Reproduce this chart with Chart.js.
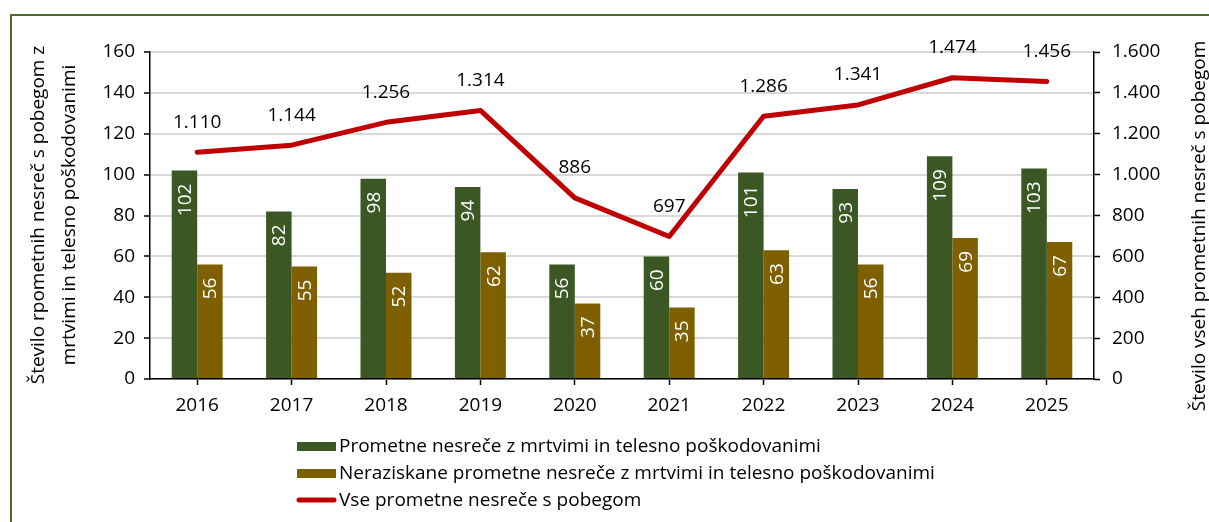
<!DOCTYPE html>
<html>
<head>
<meta charset="utf-8">
<script src="https://cdn.jsdelivr.net/npm/chart.js@4/dist/chart.umd.min.js"></script>
<style>
html,body{margin:0;padding:0;background:#fff;}
#wrap{width:1209px;height:522px;position:relative;}
</style>
</head>
<body>
<div id="wrap"><canvas id="c" width="1209" height="522"></canvas></div>
<script>
const years = ['2016','2017','2018','2019','2020','2021','2022','2023','2024','2025'];
const killedInjured = [102, 82, 98, 94, 56, 60, 101, 93, 109, 103];
const unresolved = [56, 55, 52, 62, 37, 35, 63, 56, 69, 67];
const allHitRun = [1110, 1144, 1256, 1314, 886, 697, 1286, 1341, 1474, 1456];
const seriesNames = [
  'Prometne nesreče z mrtvimi in telesno poškodovanimi',
  'Neraziskane prometne nesreče z mrtvimi in telesno poškodovanimi',
  'Vse prometne nesreče s pobegom'
];
const leftTitle = ['Število rpometnih nesreč s pobegom z', 'mrtvimi in telesno poškodovanimi'];
const rightTitle = 'Število vseh prometnih nesreč s pobegom';

const FONT = '"Open Sans", "Noto Sans", sans-serif';
const FS = 19;
const GREEN = '#3a5724', GOLD = '#7f6000', RED = '#c00000';
const fmt = v => String(v).replace(/\B(?=(\d{3})+(?!\d))/g, '.');

const extras = {
  id: 'extras',
  beforeDraw(chart) {
    const ctx = chart.ctx;
    ctx.save();
    ctx.fillStyle = '#fff';
    ctx.fillRect(0, 0, chart.width, chart.height);
    ctx.strokeStyle = '#4e6b2c';
    ctx.lineWidth = 2;
    ctx.strokeRect(11, 15, 1400, 700);
    ctx.restore();
  },
  afterDatasetsDraw(chart) {
    const ctx = chart.ctx;
    ctx.save();
    ctx.font = FS + 'px ' + FONT;
    ctx.fillStyle = '#fff';
    [0, 1].forEach(di => {
      const meta = chart.getDatasetMeta(di);
      const data = chart.data.datasets[di].data;
      meta.data.forEach((el, i) => {
        ctx.save();
        ctx.translate(el.x, el.y + 13);
        ctx.rotate(-Math.PI / 2);
        ctx.textAlign = 'right';
        ctx.textBaseline = 'middle';
        ctx.fillText(String(data[i]), 0, 1);
        ctx.restore();
      });
    });
    ctx.fillStyle = '#000';
    ctx.textAlign = 'center';
    ctx.textBaseline = 'middle';
    const lm = chart.getDatasetMeta(2);
    lm.data.forEach((el, i) => {
      ctx.fillText(fmt(allHitRun[i]), el.x, el.y - 30);
    });
    ctx.restore();
  },
  afterDraw(chart) {
    const ctx = chart.ctx;
    ctx.save();
    ctx.font = FS + 'px ' + FONT;
    ctx.fillStyle = '#000';
    ctx.textBaseline = 'middle';
    ctx.save();
    ctx.translate(39, 215);
    ctx.rotate(-Math.PI / 2);
    ctx.textAlign = 'center';
    ctx.fillText(leftTitle[0], 0, 0);
    ctx.fillText(leftTitle[1], 0, 31);
    ctx.restore();
    ctx.save();
    ctx.translate(1200, 226);
    ctx.rotate(-Math.PI / 2);
    ctx.textAlign = 'center';
    ctx.fillText(rightTitle, 0, 0);
    ctx.restore();
    const lx = 297, rows = [446, 473, 500];
    ctx.fillStyle = GREEN;
    ctx.fillRect(lx, rows[0] - 4, 39, 9);
    ctx.fillStyle = GOLD;
    ctx.fillRect(lx, rows[1] - 4, 39, 9);
    ctx.strokeStyle = RED;
    ctx.lineWidth = 5;
    ctx.lineCap = 'round';
    ctx.beginPath();
    ctx.moveTo(lx + 2, rows[2]);
    ctx.lineTo(lx + 37, rows[2]);
    ctx.stroke();
    ctx.fillStyle = '#000';
    ctx.textAlign = 'left';
    seriesNames.forEach((n, i) => ctx.fillText(n, lx + 42, rows[i] + 1));
    ctx.restore();
  }
};

new Chart(document.getElementById('c'), {
  data: {
    labels: years,
    datasets: [
      { type: 'bar', label: seriesNames[0], data: killedInjured, backgroundColor: GREEN,
        yAxisID: 'y', order: 2, categoryPercentage: 0.54, barPercentage: 1 },
      { type: 'bar', label: seriesNames[1], data: unresolved, backgroundColor: GOLD,
        yAxisID: 'y', order: 2, categoryPercentage: 0.54, barPercentage: 1 },
      { type: 'line', label: seriesNames[2], data: allHitRun, borderColor: RED, backgroundColor: RED,
        borderWidth: 5, pointRadius: 0, tension: 0, yAxisID: 'y2', order: 1,
        borderCapStyle: 'round', borderJoinStyle: 'round' }
    ]
  },
  options: {
    responsive: false,
    animation: false,
    devicePixelRatio: 1,
    layout: { padding: { top: 52, left: 0, right: 0, bottom: 0 } },
    plugins: { legend: { display: false }, tooltip: { enabled: false } },
    scales: {
      x: {
        type: 'category',
        offset: true,
        grid: { offset: false, drawOnChartArea: false, drawTicks: true, tickLength: 6, tickColor: '#000', tickWidth: 1.5 },
        border: { color: '#000', width: 1.5 },
        ticks: { color: '#000', font: { family: FONT, size: FS }, padding: 9, maxRotation: 0 },
        afterFit: s => { s.height = 143; }
      },
      y: {
        position: 'left',
        min: 0, max: 160,
        grid: { color: '#d9d9d9', lineWidth: 2, tickColor: '#000', tickLength: 6, tickWidth: 1.5 },
        border: { color: '#000', width: 1.5 },
        ticks: { stepSize: 20, color: '#000', font: { family: FONT, size: FS }, padding: 9 },
        afterFit: s => { s.width = 150; }
      },
      y2: {
        position: 'right',
        min: 0, max: 1600,
        grid: { drawOnChartArea: false, tickColor: '#000', tickLength: 6, tickWidth: 1.5 },
        border: { color: '#000', width: 1.5 },
        ticks: { stepSize: 200, color: '#000', font: { family: FONT, size: FS }, padding: 12, callback: v => fmt(v) },
        afterFit: s => { s.width = 115; }
      }
    }
  },
  plugins: [extras]
});
</script>
</body>
</html>
